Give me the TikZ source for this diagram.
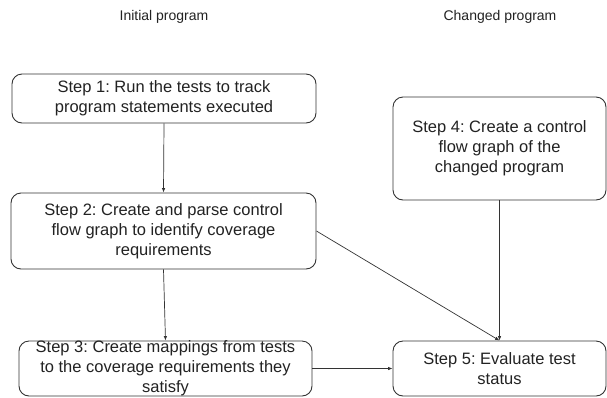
\documentclass[tikz,border=0pt]{standalone}
\usepackage{fontspec}
\setmainfont{Liberation Sans}
\usetikzlibrary{arrows.meta}
\definecolor{linegray}{HTML}{333333}
\definecolor{textgray}{HTML}{222222}
\tikzset{
  stepbox/.style={draw=linegray, line width=0.9pt, rounded corners=10pt, align=center,
    inner sep=0pt, text=textgray, font=\frenchspacing\fontsize{16.5}{19.8}\selectfont},
  header/.style={text=textgray, font=\fontsize{14}{16}\selectfont},
  conn/.style={draw=linegray, line width=0.7pt, -{Latex[length=4.5pt,width=3.5pt]}}
}
\begin{document}
\begin{tikzpicture}[x=1pt,y=-1pt]
\useasboundingbox (0,0) rectangle (607,397);
\node[header] (h1) at (164,17) {Initial program};
\node[header] (h2) at (500,17) {Changed program};
\node[stepbox, minimum width=304pt, minimum height=49pt] (b1) at (164,98.5)
  {Step 1: Run the tests to track\\program statements executed};
\node[stepbox, minimum width=305pt, minimum height=76pt] (b2) at (163.5,231)
  {Step 2: Create and parse control\\flow graph to identify coverage\\requirements};
\node[stepbox, minimum width=293pt, minimum height=55pt] (b3) at (165.5,368.5)
  {Step 3: Create mappings from tests\\to the coverage requirements they\\satisfy};
\node[stepbox, minimum width=213pt, minimum height=103pt] (b4) at (499.5,148.5)
  {Step 4: Create a control\\flow graph of the\\changed program};
\node[stepbox, minimum width=213pt, minimum height=55pt] (b5) at (499.5,368.5)
  {Step 5: Evaluate test\\status};
\draw[conn] (b1.south) -- (b2.north);
\draw[conn] (b2.south) -- (b3.north);
\draw[conn] (b2.east) -- (b5.north);
\draw[conn] (b4.south) -- (b5.north);
\draw[conn] (b3.east) -- (b5.west);
\end{tikzpicture}
\end{document}
